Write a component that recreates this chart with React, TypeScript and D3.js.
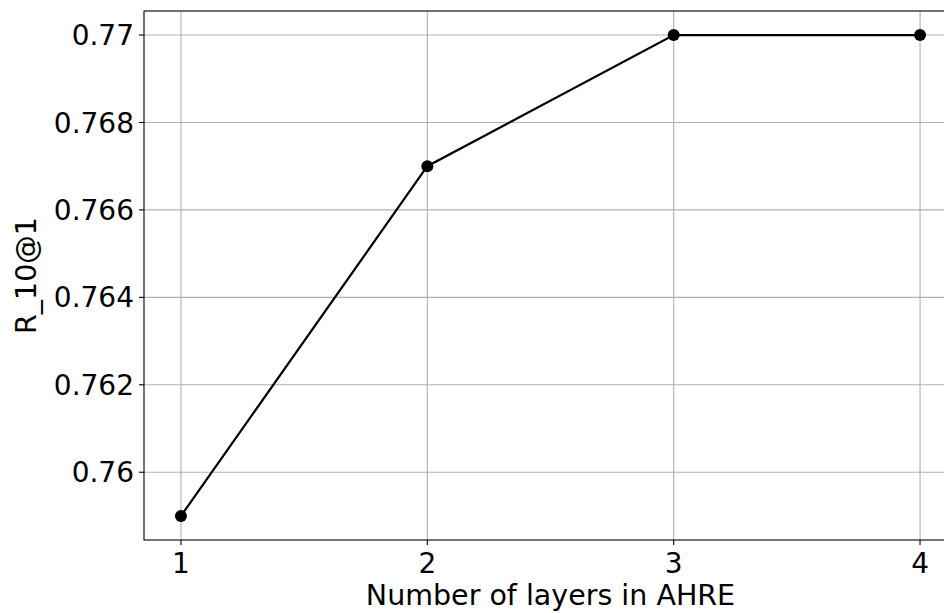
import * as d3 from "d3";

const layers = [1, 2, 3, 4];
const recall = [0.759, 0.767, 0.77, 0.77];
const xTicks = [1, 2, 3, 4];
const yTicks = [0.76, 0.762, 0.764, 0.766, 0.768, 0.77];
const yTickLabels = ["0.76", "0.762", "0.764", "0.766", "0.768", "0.77"];

const width = 944;
const height = 613;
const marginLeft = 144;
const plotRight = 957; // right spine sits just outside the picture
const marginTop = 11;
const plotBottom = 540;
const font = "DejaVu Sans";

export default function App() {
  const x = d3.scaleLinear([0.85, 4.15], [marginLeft, plotRight]);
  const y = d3.scaleLinear([0.75845, 0.77055], [plotBottom, marginTop]);
  const line = d3.line<number>((_, i) => x(layers[i]), (d) => y(d));

  return (
    <svg
      width={width}
      height={height}
      style={{ position: "absolute", left: 0, top: 0, background: "white" }}
      fontFamily={font}
    >
      {/* grid */}
      <g stroke="#b0b0b0" strokeWidth={1.1}>
        {xTicks.map((t) => (
          <line key={`gx${t}`} x1={x(t)} x2={x(t)} y1={marginTop} y2={plotBottom} />
        ))}
        {yTicks.map((t) => (
          <line key={`gy${t}`} x1={marginLeft} x2={plotRight} y1={y(t)} y2={y(t)} />
        ))}
      </g>

      {/* spines */}
      <rect
        x={marginLeft}
        y={marginTop}
        width={plotRight - marginLeft}
        height={plotBottom - marginTop}
        fill="none"
        stroke="black"
        strokeWidth={1.1}
      />

      {/* x axis */}
      <g fontSize={28} textAnchor="middle">
        {xTicks.map((t) => (
          <g key={`xt${t}`} transform={`translate(${x(t)},${plotBottom})`}>
            <line y2={5} stroke="black" strokeWidth={1.1} />
            <text y={33}>{t}</text>
          </g>
        ))}
      </g>

      {/* y axis */}
      <g fontSize={28} textAnchor="end">
        {yTicks.map((t, i) => (
          <g key={`yt${t}`} transform={`translate(${marginLeft},${y(t)})`}>
            <line x2={-5} stroke="black" strokeWidth={1.1} />
            <text x={-10} dy="0.36em">
              {yTickLabels[i]}
            </text>
          </g>
        ))}
      </g>

      <text x={(marginLeft + plotRight) / 2} y={605} fontSize={28.5} textAnchor="middle">
        Number of layers in AHRE
      </text>
      <text
        transform={`translate(36,${(marginTop + plotBottom) / 2}) rotate(-90)`}
        fontSize={28.5}
        textAnchor="middle"
      >
        R_10@1
      </text>

      {/* series */}
      <path d={line(recall) || undefined} fill="none" stroke="black" strokeWidth={2.2} />
      <g fill="black">
        {recall.map((d, i) => (
          <circle key={i} cx={x(layers[i])} cy={y(d)} r={6} />
        ))}
      </g>
    </svg>
  );
}
